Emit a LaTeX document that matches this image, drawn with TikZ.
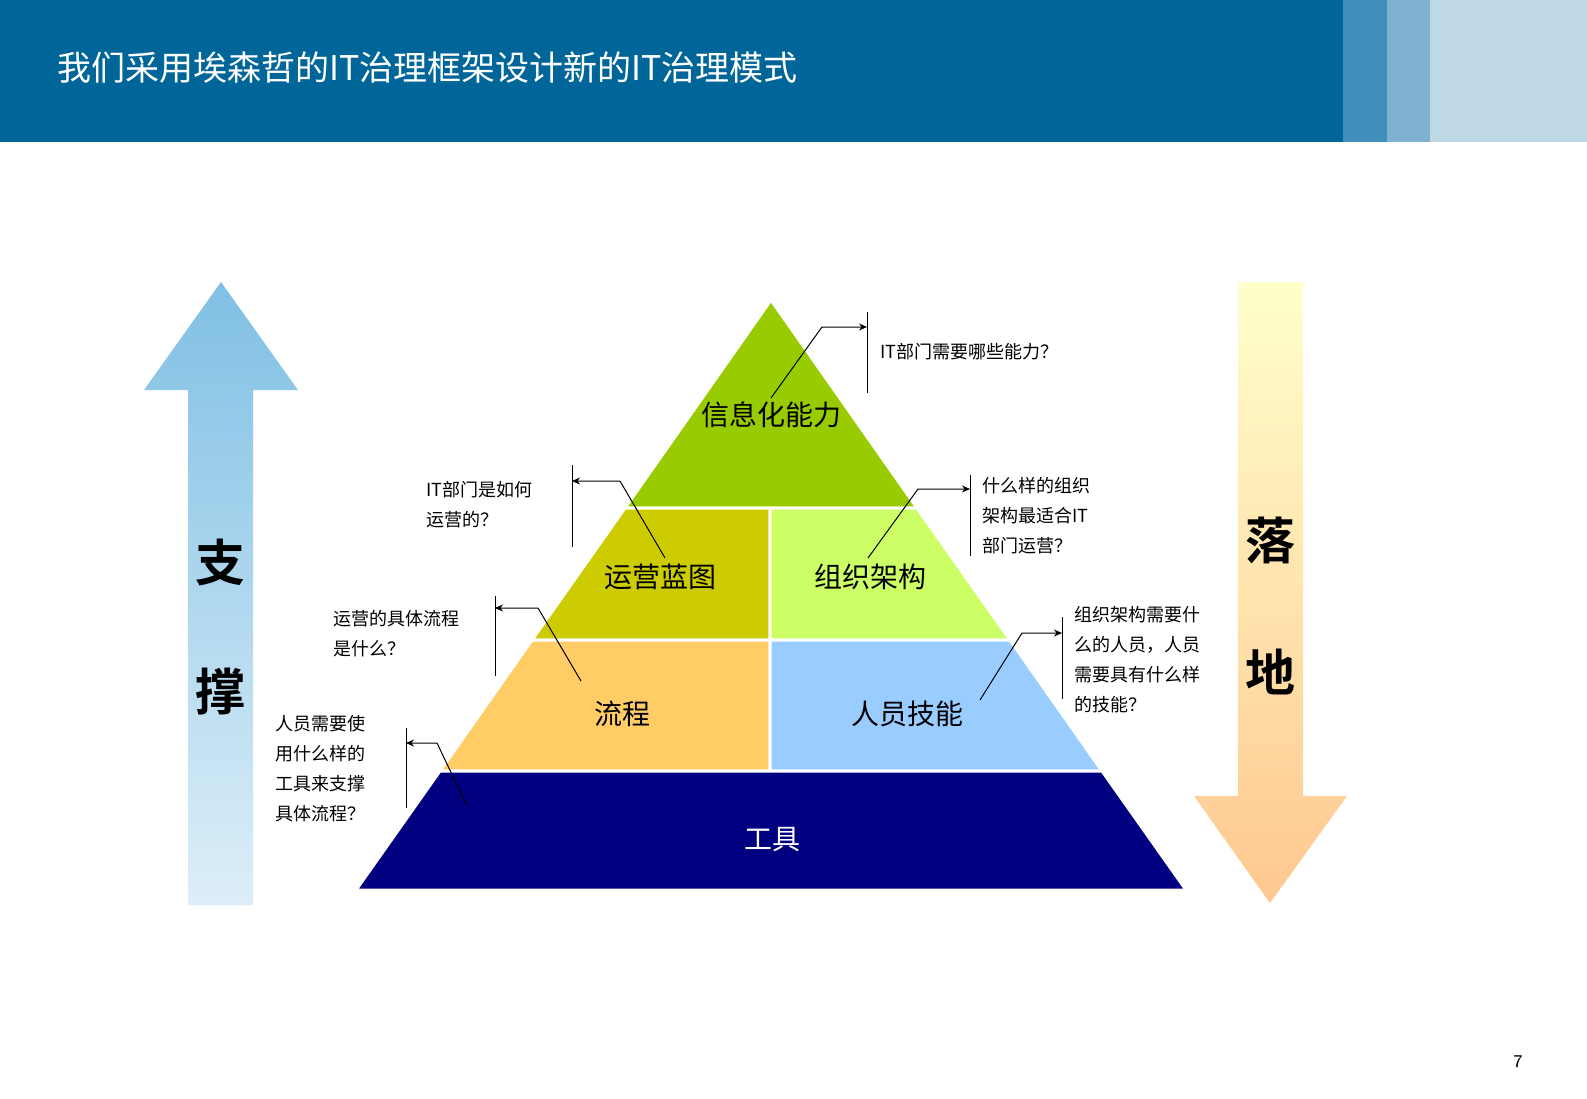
\documentclass[tikz,border=0pt]{standalone}
\usepackage{fontspec}
\setmainfont{Noto Sans CJK SC}
\newfontfamily\cjkb{Noto Sans CJK SC Bold}
\usetikzlibrary{arrows.meta}
\definecolor{hdr}{HTML}{00669A}
\definecolor{st1}{HTML}{3F8FBA}
\definecolor{st2}{HTML}{7FB2D0}
\definecolor{st3}{HTML}{BFD8E6}
\tikzset{
 tier/.style={draw=white,line width=1.5pt},
 lbl/.style={font=\fontsize{14}{16}\selectfont},
 note/.style={font=\fontsize{9}{15}\selectfont,align=left,anchor=north west,inner sep=0pt},
 lead/.style={draw=black,line width=0.5pt},
 tip/.style={lead,-{Stealth[length=4pt,width=3.5pt]}},
 big/.style={font=\cjkb\fontsize{25}{25}\selectfont}
}
\begin{document}
\begin{tikzpicture}[x=0.5pt,y=-0.5pt]
\useasboundingbox (0,0) rectangle (1587,1099);
\fill[white] (0,0) rectangle (1587,1099);
% header
\fill[hdr] (0,0) rectangle (1343,142);
\fill[st1] (1343,0) rectangle (1387,142);
\fill[st2] (1387,0) rectangle (1430,142);
\fill[st3] (1430,0) rectangle (1587,142);
\node[anchor=west,text=white,font=\fontsize{17}{20}\selectfont] (title) at (50,68) {我们采用埃森哲的IT治理框架设计新的IT治理模式};
% arrows
\path[top color={rgb,255:red,128;green,192;blue,228},bottom color={rgb,255:red,221;green,238;blue,248}]
 (221,282) -- (298,390) -- (253,390) -- (253,905) -- (188,905) -- (188,390) -- (144,390) -- cycle;
\path[top color={rgb,255:red,255;green,255;blue,204},bottom color={rgb,255:red,255;green,200;blue,144}]
 (1238,282) -- (1303,282) -- (1303,796) -- (1347,796) -- (1270,903) -- (1194,796) -- (1238,796) -- cycle;
\node[big] (zhi) at (220,562) {支};
\node[big] (cheng) at (220,692) {撑};
\node[big] (luo) at (1270,540) {落};
\node[big] (di) at (1270,672) {地};
% pyramid
\path[tier,fill={rgb,255:red,153;green,204;blue,0}] (771,300) -- (917,508) -- (625,508) -- cycle;
\path[tier,fill={rgb,255:red,204;green,204;blue,0}] (625,508) -- (770,508) -- (770,640) -- (532,640) -- cycle;
\path[tier,fill={rgb,255:red,204;green,255;blue,102}] (770,508) -- (917,508) -- (1010,640) -- (770,640) -- cycle;
\path[tier,fill={rgb,255:red,255;green,204;blue,102}] (532,640) -- (770,640) -- (770,771) -- (440,771) -- cycle;
\path[tier,fill={rgb,255:red,153;green,204;blue,255}] (770,640) -- (1010,640) -- (1102,771) -- (770,771) -- cycle;
\path[tier,fill={rgb,255:red,0;green,0;blue,128}] (440,771) -- (1102,771) -- (1186,890) -- (356,890) -- cycle;
\node[lbl] (t1) at (771,415) {信息化能力};
\node[lbl] (t2) at (660,577) {运营蓝图};
\node[lbl] (t3) at (870,577) {组织架构};
\node[lbl] (t4) at (622,714) {流程};
\node[lbl] (t5) at (907,714) {人员技能};
\node[lbl,text=white] (t6) at (772,840) {工具};
% callouts
\coordinate (a1) at (771,398); \coordinate (b1) at (822,327); \coordinate (c1) at (867,327);
\draw[lead] (867,312) -- (867,393);
\draw[tip] (a1) -- (b1) -- (c1);
\node[note] (n1) at (880,343) {IT部门需要哪些能力？};
\coordinate (a2) at (665,558); \coordinate (b2) at (620,481); \coordinate (c2) at (572,481);
\draw[lead] (572,465) -- (572,547);
\draw[tip] (a2) -- (b2) -- (c2);
\node[note] (n2) at (426,481) {IT部门是如何\\运营的？};
\coordinate (a3) at (868,558); \coordinate (b3) at (918,489); \coordinate (c3) at (970,489);
\draw[lead] (970,475) -- (970,556);
\draw[tip] (a3) -- (b3) -- (c3);
\node[note] (n3) at (982,477) {什么样的组织\\架构最适合IT\\部门运营？};
\coordinate (a4) at (581,681); \coordinate (b4) at (538,608); \coordinate (c4) at (495,608);
\draw[lead] (495,596) -- (495,676);
\draw[tip] (a4) -- (b4) -- (c4);
\node[note] (n4) at (333,610) {运营的具体流程\\是什么？};
\coordinate (a5) at (980,700); \coordinate (b5) at (1022,633); \coordinate (c5) at (1062,633);
\draw[lead] (1062,617) -- (1062,699);
\draw[tip] (a5) -- (b5) -- (c5);
\node[note] (n5) at (1074,606) {组织架构需要什\\么的人员，人员\\需要具有什么样\\的技能？};
\coordinate (a6) at (467,806); \coordinate (b6) at (437,743); \coordinate (c6) at (406,743);
\draw[lead] (406,728) -- (406,808);
\draw[tip] (a6) -- (b6) -- (c6);
\node[note] (n6) at (275,715) {人员需要使\\用什么样的\\工具来支撑\\具体流程？};
\node[font=\sffamily\fontsize{9}{10}\selectfont] (pg) at (1518,1062) {7};
\end{tikzpicture}
\end{document}
